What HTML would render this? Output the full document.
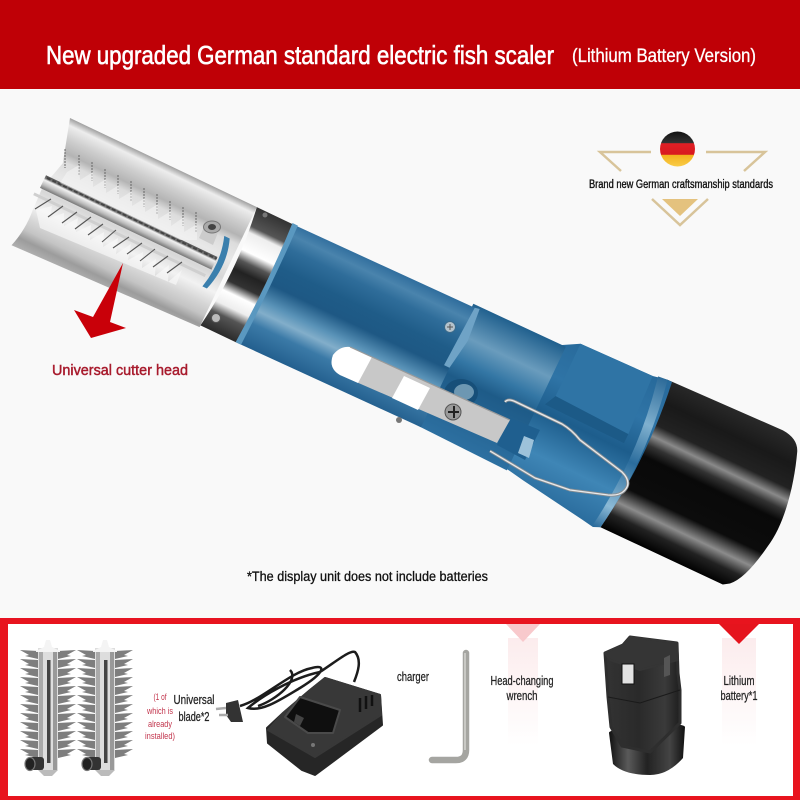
<!DOCTYPE html>
<html><head><meta charset="utf-8"><style>
html,body{margin:0;padding:0;background:#f9f9f9}
svg{display:block}
text{font-family:"Liberation Sans",sans-serif}
</style></head><body>
<svg width="800" height="800" viewBox="0 0 800 800" xmlns="http://www.w3.org/2000/svg">
<defs>
<linearGradient id="head" x1="0" y1="0" x2="0" y2="1">
<stop offset="0" stop-color="#a0a0a0"/><stop offset=".05" stop-color="#ededed"/><stop offset=".14" stop-color="#cfcfcf"/><stop offset=".24" stop-color="#b4b4b4"/><stop offset=".3" stop-color="#dcdcdc"/><stop offset=".42" stop-color="#e8e8e8"/><stop offset=".56" stop-color="#d8d8d8"/><stop offset=".68" stop-color="#f2f2f2"/><stop offset=".78" stop-color="#d6d6d6"/><stop offset=".86" stop-color="#c4c4c4"/><stop offset=".93" stop-color="#9c9c9c"/><stop offset="1" stop-color="#b0b0b0"/>
</linearGradient>
<linearGradient id="collar" x1="0" y1="0" x2="0" y2="1">
<stop offset="0" stop-color="#333"/><stop offset=".15" stop-color="#555"/><stop offset=".2" stop-color="#eee"/><stop offset=".34" stop-color="#fff"/><stop offset=".42" stop-color="#555"/><stop offset=".5" stop-color="#222"/><stop offset=".6" stop-color="#333"/><stop offset=".68" stop-color="#fff"/><stop offset=".78" stop-color="#eee"/><stop offset=".86" stop-color="#555"/><stop offset="1" stop-color="#2a2a2a"/>
</linearGradient>
<linearGradient id="blue" x1="0" y1="0" x2="0" y2="1">
<stop offset="0" stop-color="#2e6c9c"/><stop offset=".1" stop-color="#4a84ad"/><stop offset=".2" stop-color="#2f6d9a"/><stop offset=".36" stop-color="#1f5c88"/><stop offset=".5" stop-color="#1e5884"/><stop offset=".64" stop-color="#5a93b8"/><stop offset=".72" stop-color="#82aeca"/><stop offset=".82" stop-color="#3b7aa7"/><stop offset="1" stop-color="#235f8e"/>
</linearGradient>
<linearGradient id="blue2" x1="0" y1="0" x2="0" y2="1">
<stop offset="0" stop-color="#1f5f8d"/><stop offset=".25" stop-color="#6a9cbd"/><stop offset=".42" stop-color="#3477a5"/><stop offset=".55" stop-color="#1e5b88"/><stop offset="1" stop-color="#2d70a1"/>
</linearGradient>
<linearGradient id="blue3" x1="0" y1="0" x2="0" y2="1">
<stop offset="0" stop-color="#27699a"/><stop offset=".28" stop-color="#2f74a6"/><stop offset=".5" stop-color="#1d5d8c"/><stop offset=".75" stop-color="#3f86b6"/><stop offset="1" stop-color="#2a6c9d"/>
</linearGradient>
<linearGradient id="ring" x1="0" y1="0" x2="0" y2="1">
<stop offset="0" stop-color="#2c6a98"/><stop offset=".3" stop-color="#7fb0cf"/><stop offset=".55" stop-color="#2a6c9c"/><stop offset=".85" stop-color="#8cbad6"/><stop offset="1" stop-color="#2b6b9b"/>
</linearGradient>
<linearGradient id="cap" x1="0" y1="0" x2="0" y2="1">
<stop offset="0" stop-color="#2a2a2a"/><stop offset=".16" stop-color="#191919"/><stop offset=".3" stop-color="#222"/><stop offset=".37" stop-color="#8a8a8a"/><stop offset=".43" stop-color="#333"/><stop offset=".5" stop-color="#090909"/><stop offset=".72" stop-color="#0c0c0c"/><stop offset=".82" stop-color="#8c8c8c"/><stop offset=".9" stop-color="#222"/><stop offset="1" stop-color="#000"/>
</linearGradient>
<linearGradient id="rod" x1="0" y1="0" x2="0" y2="1">
<stop offset="0" stop-color="#555"/><stop offset=".22" stop-color="#7a7a7a"/><stop offset=".34" stop-color="#f2f2f2"/><stop offset=".7" stop-color="#bbb"/><stop offset="1" stop-color="#777"/>
</linearGradient>
<linearGradient id="flag" x1="0" y1="0" x2="0" y2="1">
<stop offset="0" stop-color="#111"/><stop offset=".33" stop-color="#333"/><stop offset=".34" stop-color="#e02025"/><stop offset=".66" stop-color="#d8181f"/><stop offset=".67" stop-color="#f2b11d"/><stop offset="1" stop-color="#f9cc47"/>
</linearGradient>
<linearGradient id="base" x1="0" y1="0" x2="1" y2="0">
<stop offset="0" stop-color="#111"/><stop offset=".25" stop-color="#5a5a5a"/><stop offset=".5" stop-color="#222"/><stop offset=".8" stop-color="#444"/><stop offset="1" stop-color="#111"/>
</linearGradient>
<linearGradient id="fade1" x1="0" y1="0" x2="0" y2="1"><stop offset="0" stop-color="#f9d9db"/><stop offset="1" stop-color="#fff"/></linearGradient>
<linearGradient id="bat" x1="0" y1="0" x2="1" y2="0">
<stop offset="0" stop-color="#333"/><stop offset=".45" stop-color="#2a2a2a"/><stop offset=".8" stop-color="#3a3a3a"/><stop offset="1" stop-color="#1e1e1e"/>
</linearGradient>
<g id="bladeRow">
<path d="M38,0 L20,-1 L29,4 L25,5 L38,8Z M58,0 L76,-1 L67,4 L71,5 L58,8Z" fill="#7e7e7e"/>
</g>
<g id="blade">
<use href="#bladeRow" y="651"/><use href="#bladeRow" y="660"/><use href="#bladeRow" y="669"/><use href="#bladeRow" y="678"/><use href="#bladeRow" y="687"/><use href="#bladeRow" y="696"/><use href="#bladeRow" y="705"/><use href="#bladeRow" y="714"/><use href="#bladeRow" y="723"/><use href="#bladeRow" y="732"/><use href="#bladeRow" y="741"/><use href="#bladeRow" y="750"/>
<rect x="38" y="648" width="20" height="122" fill="#ddd"/>
<rect x="39" y="652" width="4" height="118" fill="#aaa"/><rect x="53" y="652" width="4" height="118" fill="#999"/>
<rect x="47" y="660" width="3.5" height="103" fill="#444"/>
<path d="M36,651 L44,647 L46,640 L50,640 L52,647 L60,651 L60,652 L36,652Z" fill="#f4f4f4"/>
<path d="M38,770 L44,776 L52,776 L58,770Z" fill="#bbb"/>
<rect x="29" y="757" width="15" height="13" rx="3" fill="#333"/><ellipse cx="30" cy="764" rx="5" ry="6.5" fill="#222" stroke="#777" stroke-width="1.2"/>
</g>
</defs>

<rect width="800" height="800" fill="#f9f9f9"/>
<rect width="800" height="89" fill="#bf0006"/>
<text x="46" y="64" font-size="26" fill="#fff" stroke="#fff" stroke-width=".6" textLength="508" lengthAdjust="spacingAndGlyphs">New upgraded German standard electric fish scaler</text>
<text x="572" y="62" font-size="19" fill="#fff" stroke="#fff" stroke-width=".3" textLength="184" lengthAdjust="spacingAndGlyphs">(Lithium Battery Version)</text>

<!-- Badge -->
<g stroke="#d8c49a" stroke-width="2.500" fill="none">
<path d="M651,152 H600 L621,171"/><path d="M706,152 H765 L744,171"/>
<path d="M652,199 L680,225 L708,199"/>
</g>
<path d="M662,199 H698 L680,216Z" fill="#e4c27e"/>
<circle cx="677.500" cy="149" r="17.500" fill="url(#flag)"/>
<text x="589" y="188" font-size="11.500" fill="#111" stroke="#111" stroke-width=".35" textLength="184" lengthAdjust="spacingAndGlyphs">Brand new German craftsmanship standards</text>

<!-- Tool -->
<g transform="translate(70,118) rotate(25.500)">
<path d="M652,-21 L778,-25 Q795,-24 800,-12 C812,20 820,60 814,87 Q808,125 796,136 L790,140 L655,141 Q668,60 652,-21Z" fill="url(#cap)"/>
<path d="M542,-7 L558,-16 L637,-18 L652,-21 L657,-21 Q668,60 655,141 L648,144 L635,142 L565,132 L541,128Z" fill="url(#blue3)"/>
<path d="M558,-16 L637,-18 L640,45 L558,42Z" fill="#2f74a5"/>
<path d="M558,42 L640,45 L640,55 L552,54Z" fill="#1c5a87"/>
<path d="M642,-20 L652,-21 Q668,60 655,141 L647,143 Q659,60 642,-20Z" fill="url(#ring)"/>
<path d="M444,-6 L546,-7 L546,130 L444,128Z" fill="url(#blue2)"/>
<path d="M248,0 L450,-3 L450,128 L248,131Z" fill="url(#blue)"/>
<path d="M447,-3 L452,-4 L455,30 L450,62 L444,62Z" fill="#6fa3c6"/>
<path d="M0,0 L207,0 L207,133 L2,140 Q8,120 6,99 L5,74 L13,44Z" fill="url(#head)"/>
<path d="M207,0 H248 V131 H207 Q217,66 207,0Z" fill="url(#collar)"/>
<path d="M246,-1 L252,-1 Q254,65 252,131 L246,131 Q250,65 246,-1Z" fill="#5a98c0"/>
<rect x="3" y="62" width="190" height="14" fill="url(#rod)"/>
<path d="M5,64 H193" stroke="#444" stroke-width="2" stroke-dasharray="4 2"/>
<path d="M0,84 H190" stroke="#cfcfcf" stroke-width="3"/>
<path d="M190,40 Q199,66 192,95 L197,95 Q206,66 196,40Z" fill="#3a7fad"/>
</g>

<!-- upper teeth -->
<g stroke="#666" stroke-width="1" stroke-dasharray="2 1">
<path d="M65,149V168M79,155V175M92,162V181M105,169V188M118,175V194M131,181V201M144,188V207M157,194V214M170,201V220M183,207V226M196,212V232"/>
</g>
<path d="M67,172 L79,165 L80,180 L93,172 L93,187 L106,179 L106,193 L119,185 L119,199 L132,191 L132,206 L145,198 L145,212 L158,204 L158,219 L171,211 L171,226 L184,217 L184,232 L197,224 L197,240 L180,240 L60,183Z" fill="#f7f7f7" opacity=".5"/>
<!-- lower teeth -->
<path d="M36,210 L52,206 L50,218 L64,213 L64,226 L78,218 L76,232 L91,225 L90,240 L104,232 L103,247 L118,238 L116,254 L131,244 L128,260 L143,252 L142,268 L156,259 L155,276 L169,265 L168,282 L182,270 L176,285 L40,228Z" fill="#f8f8f8" opacity=".7"/>
<g stroke="#555" stroke-width="1.100" fill="none">
<path d="M35,209L51,199M48,217L63,206M62,223L77,212M75,229L91,217M88,235L103,224M102,242L116,230M113,248L129,237M127,254L142,243M140,261L155,249M153,267L168,256M167,273L182,262"/>
</g>
<!-- hex screw -->
<path d="M199,238 L205,225 L219,230 L213,245Z" fill="#ccc"/>
<ellipse cx="212" cy="227" rx="8.500" ry="6" fill="#aaa" stroke="#777"/>
<ellipse cx="212" cy="227" rx="4" ry="3" fill="#444"/>
<!-- collar screws -->
<circle cx="216" cy="318" r="4.500" fill="#bbb" stroke="#555"/><circle cx="265" cy="215" r="2.500" fill="#777"/>
<circle cx="450" cy="327" r="5.500" fill="#b5c3cc" stroke="#3a6b8c"/>
<path d="M447,327h6M450,324v6" stroke="#555"/>

<!-- Arrow -->
<path d="M123,263 L110,322 L126,328 L91,338 L74,310 L93,317Z" fill="#c90009"/>
<text x="52" y="375" font-size="14.500" fill="#a81b2d" stroke="#a81b2d" stroke-width=".45" textLength="136" lengthAdjust="spacingAndGlyphs">Universal cutter head</text>

<!-- hole + clip -->
<ellipse cx="461" cy="393" rx="17" ry="14" fill="#174f79"/>
<ellipse cx="464" cy="392" rx="10" ry="8" fill="#6d97b2"/>
<path d="M510,418 L540,430 L525,460 L497,445Z" fill="#1f5f8f"/>
<path d="M524,436 L534,440 L529,458 L518,453Z" fill="#9dc2da"/>
<path d="M350,347 L510,420 L497,443 L340,375 Q328,368 333,355 Q340,346 350,347Z" fill="#c8c8c8"/>
<path d="M350,347 L372,357 L358,383 L340,375 Q328,368 333,355 Q340,346 350,347Z" fill="#fff"/>
<path d="M404,376 L430,388 L418,410 L392,398Z" fill="#fff"/>
<path d="M350,347 L510,420" stroke="#9a9a9a" stroke-width="1.200"/>
<circle cx="453" cy="412" r="8" fill="#9a9a9a" stroke="#555"/>
<path d="M448,412h11M454,406v12" stroke="#222" stroke-width="2"/>
<circle cx="399" cy="420" r="3" fill="#777"/>
<!-- wire -->
<path d="M505,402 Q508,398 516,402 L562,424 Q572,430 580,440 L622,472 Q632,482 625,490 Q620,496 608,495 L570,490 L535,478 L490,451" fill="none" stroke="#8b8f92" stroke-width="3" stroke-linejoin="round"/>
<path d="M505,402 Q508,398 516,402 L562,424 Q572,430 580,440 L622,472 Q632,482 625,490 Q620,496 608,495 L570,490 L535,478 L490,451" fill="none" stroke="#e8eaec" stroke-width="1.300" stroke-linejoin="round"/>

<text x="247" y="581" font-size="13.500" fill="#111" stroke="#111" stroke-width=".3" textLength="241" lengthAdjust="spacingAndGlyphs">*The display unit does not include batteries</text>

<!-- Footer -->
<rect x="0" y="610" width="800" height="8" fill="#fafaf6"/>
<rect x="0" y="618" width="800" height="182" fill="#e8141e"/>
<rect x="8" y="624" width="785" height="172" fill="#fff"/>
<rect x="508" y="638" width="30" height="108" fill="url(#fade1)" opacity=".5"/>
<rect x="722" y="638" width="34" height="108" fill="url(#fade1)" opacity=".5"/>
<path d="M506,624 H540 L523,642Z" fill="#f8c9cc"/>
<path d="M719,624 H759 L739,644Z" fill="#e5141d"/>

<use href="#blade"/><use href="#blade" x="57"/>

<text x="160" y="700" font-size="9.500" fill="#c2344c" text-anchor="middle" textLength="13" lengthAdjust="spacingAndGlyphs">(1 of</text>
<text x="160" y="714" font-size="9.500" fill="#c2344c" text-anchor="middle" textLength="26" lengthAdjust="spacingAndGlyphs">which is</text>
<text x="160" y="727" font-size="9.500" fill="#c2344c" text-anchor="middle" textLength="24" lengthAdjust="spacingAndGlyphs">already</text>
<text x="160" y="739" font-size="9.500" fill="#c2344c" text-anchor="middle" textLength="30" lengthAdjust="spacingAndGlyphs">installed)</text>
<text x="194" y="704" font-size="12.500" fill="#222" stroke="#222" stroke-width=".25" text-anchor="middle" textLength="41" lengthAdjust="spacingAndGlyphs">Universal</text>
<text x="194" y="721" font-size="12.500" fill="#222" stroke="#222" stroke-width=".25" text-anchor="middle" textLength="31" lengthAdjust="spacingAndGlyphs">blade*2</text>

<!-- Charger -->
<path d="M240,706 C262,700 290,672 312,668 C326,664 326,672 300,688 C280,700 262,712 248,708 C262,696 292,678 320,672 C338,660 350,650 355,652 C362,660 358,672 354,682" fill="none" stroke="#1c1c1c" stroke-width="2.500"/>
<path d="M290,670 C300,680 276,700 258,706" fill="none" stroke="#1c1c1c" stroke-width="2.500"/>
<path d="M226,703 L238,700 L243,722 L231,722 L226,715Z" fill="#333"/>
<path d="M216,709 L226,708M219,715 L228,715" stroke="#aaa" stroke-width="2.500"/>
<path d="M325,678 L380,695 L382,725 L315,775 L302,770 L268,743 L267,728 L283,713 L310,690Z" fill="#262626" stroke="#262626" stroke-width="2" stroke-linejoin="round"/>
<path d="M325,678 L380,695 L381,715 L315,757 L268,730 L283,713 L310,690Z" fill="#383838" stroke="#383838" stroke-width="2" stroke-linejoin="round"/>
<path d="M285,717 L300,697 L340,710 L333,733 L308,733Z" fill="#0f0f0f" stroke="#4a4a4a" stroke-width="2" stroke-linejoin="round"/>
<path d="M296,714 L304,718 L300,726 L294,722Z" fill="#444"/>
<path d="M360,712 V698 M366,709 V696 M372,706 V695" stroke="#111" stroke-width="2.500"/>
<circle cx="313" cy="745" r="2" fill="#777"/>

<text x="413" y="681" font-size="12.500" fill="#222" stroke="#222" stroke-width=".25" text-anchor="middle" textLength="32" lengthAdjust="spacingAndGlyphs">charger</text>

<!-- Wrench -->
<path d="M466,653 V750 Q466,760 456,760 H432" fill="none" stroke="#a5a5a1" stroke-width="6.500" stroke-linecap="round"/>
<path d="M465,653 V750" stroke="#c8c8c4" stroke-width="2"/>
<text x="522" y="685" font-size="12.500" fill="#222" stroke="#222" stroke-width=".25" text-anchor="middle" textLength="63" lengthAdjust="spacingAndGlyphs">Head-changing</text>
<text x="522" y="700" font-size="12.500" fill="#222" stroke="#222" stroke-width=".25" text-anchor="middle" textLength="31" lengthAdjust="spacingAndGlyphs">wrench</text>

<!-- Battery -->
<path d="M609,733 C608,727 684,720 685,727 L683,758 Q668,775 650,775 Q624,775 613,764Z" fill="url(#base)"/>
<path d="M605,653 L623,645 L630,637 L677,643 L678,673 L680,690 L680,723 L650,752 L622,746 L611,727 L608,697Z" fill="url(#bat)" stroke="#2e2e2e" stroke-width="3" stroke-linejoin="round"/>
<path d="M605,653 L623,645 L630,637 L677,643 L678,660 L640,670 L610,660Z" fill="#353535" stroke="#353535" stroke-width="2" stroke-linejoin="round"/>
<rect x="622" y="664" width="12" height="20" fill="#e2e2e2" stroke="#111" stroke-width="1"/>
<path d="M664,658 L670,655 L670,675 L664,677Z" fill="#555"/>
<path d="M608,697 L640,703 L680,690" stroke="#1a1a1a" fill="none"/>
<text x="739" y="685" font-size="12.500" fill="#222" stroke="#222" stroke-width=".25" text-anchor="middle" textLength="31" lengthAdjust="spacingAndGlyphs">Lithium</text>
<text x="739" y="700" font-size="12.500" fill="#222" stroke="#222" stroke-width=".25" text-anchor="middle" textLength="37" lengthAdjust="spacingAndGlyphs">battery*1</text>
</svg>
</body></html>
